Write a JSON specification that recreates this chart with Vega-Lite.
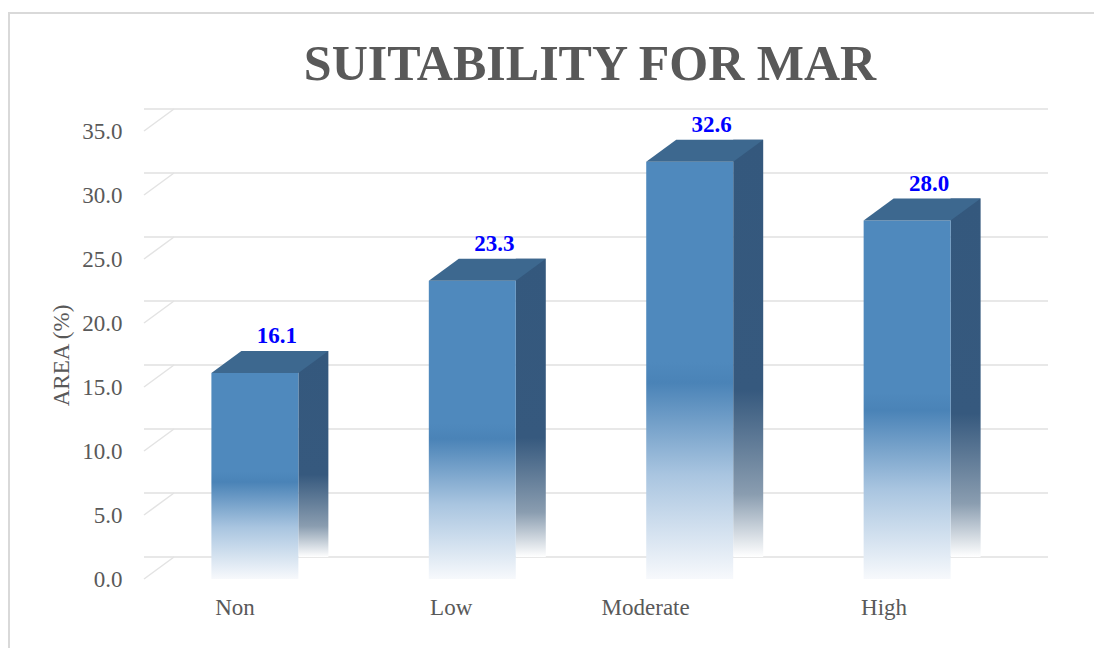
{
  "$schema": "https://vega.github.io/schema/vega-lite/v6.json",
  "autosize": {"type": "none"},
  "padding": {"left": 144, "top": 131, "right": 76, "bottom": 69},
  "width": 874,
  "height": 448,
  "background": "white",
  "config": {
    "view": {"stroke": null},
    "font": "Liberation Serif",
    "title": {"font": "Liberation Serif", "fontWeight": "bold"}
  },
  "title": {
    "text": "SUITABILITY FOR MAR",
    "font": "Liberation Serif",
    "fontSize": 50,
    "fontWeight": "bold",
    "color": "#595959",
    "anchor": "middle",
    "dx": 9,
    "baseline": "alphabetic",
    "offset": -121
  },
  "datasets": {
    "main": [
      {"category": "Non", "area": 16.1},
      {"category": "Low", "area": 23.3},
      {"category": "Moderate", "area": 32.6},
      {"category": "High", "area": 28.0}
    ],
    "ticks": [
      {"tick": 0}, {"tick": 5}, {"tick": 10}, {"tick": 15},
      {"tick": 20}, {"tick": 25}, {"tick": 30}, {"tick": 35}
    ]
  },
  "layer": [
    {
      "data": {"name": "main"},
      "transform": [{"aggregate": [{"op": "count", "as": "n"}]}],
      "mark": {"type": "point", "shape": "M-572,400L-572,-342L620,-342", "size": 4, "filled": false, "stroke": "#d9d9d9", "strokeWidth": 2, "opacity": 1},
      "encoding": {}
    },
    {
      "data": {"name": "ticks"},
      "mark": {"type": "rule", "stroke": "#e8e8e8", "strokeWidth": 2, "xOffset": 30, "x2Offset": 30, "yOffset": -22},
      "encoding": {
        "y": {"field": "tick", "type": "quantitative", "scale": {"domain": [0, 35], "nice": false}}
      }
    },
    {
      "data": {"name": "ticks"},
      "mark": {"type": "point", "shape": "M-437,0L-407,-22", "size": 4, "filled": false, "stroke": "#e3e3e3", "strokeWidth": 1.5, "opacity": 1},
      "encoding": {
        "y": {"field": "tick", "type": "quantitative"}
      }
    },
    {
      "data": {"name": "main"},
      "mark": {
        "type": "bar",
        "width": 30,
        "xOffset": 58.5,
        "yOffset": -22,
        "y2Offset": -22,
        "fill": {
          "x1": 0, "y1": 0, "x2": 0, "y2": 1,
          "gradient": "linear",
          "stops": [
            {"offset": 0, "color": "#34587d"},
            {"offset": 0.6, "color": "#36597e"},
            {"offset": 0.85, "color": "#8a9db0"},
            {"offset": 1, "color": "#ffffff"}
          ]
        }
      },
      "encoding": {
        "x": {"field": "category", "type": "nominal", "sort": null},
        "y": {"field": "area", "type": "quantitative"}
      }
    },
    {
      "data": {"name": "main"},
      "mark": {
        "type": "bar",
        "fill": {
          "x1": 0, "y1": 0, "x2": 0, "y2": 1,
          "gradient": "linear",
          "stops": [
            {"offset": 0, "color": "#4f89bd"},
            {"offset": 0.48, "color": "#4f89bd"},
            {"offset": 0.53, "color": "#4a83b7"},
            {"offset": 0.75, "color": "#a9c5e0"},
            {"offset": 1, "color": "#f7f9fc"}
          ]
        }
      },
      "encoding": {
        "x": {
          "field": "category", "type": "nominal", "sort": null,
          "scale": {"paddingInner": 0.6, "paddingOuter": 0.31},
          "axis": {
            "title": null, "domain": false, "ticks": false, "labelAngle": 0,
            "labelFont": "Liberation Serif", "labelFontSize": 23, "labelColor": "#595959",
            "labelPadding": 28
          }
        },
        "y": {
          "field": "area", "type": "quantitative",
          "axis": {
            "title": "AREA (%)", "values": [0, 5, 10, 15, 20, 25, 30, 35], "format": ".1f",
            "grid": false, "domain": false, "ticks": false,
            "labelFont": "Liberation Serif", "labelFontSize": 23, "labelColor": "#595959",
            "labelPadding": 22,
            "titleFont": "Liberation Serif", "titleFontSize": 23, "titleFontWeight": "normal",
            "titleColor": "#595959", "titlePadding": 8
          }
        }
      }
    },
    {
      "data": {"name": "main"},
      "mark": {"type": "point", "shape": "M-43.5,0L-13.5,-22L73.5,-22L43.5,0Z", "size": 4, "filled": true, "fill": "#3d688f", "strokeWidth": 0, "opacity": 1},
      "encoding": {
        "x": {"field": "category", "type": "nominal", "sort": null},
        "y": {"field": "area", "type": "quantitative"}
      }
    },
    {
      "data": {"name": "main"},
      "mark": {"type": "text", "font": "Liberation Serif", "fontSize": 23, "fontWeight": "bold", "fill": "#0000ff", "dx": 22, "dy": -30, "baseline": "alphabetic", "align": "center"},
      "encoding": {
        "x": {"field": "category", "type": "nominal", "sort": null},
        "y": {"field": "area", "type": "quantitative"},
        "text": {"field": "area", "type": "quantitative", "format": ".1f"}
      }
    }
  ]
}
